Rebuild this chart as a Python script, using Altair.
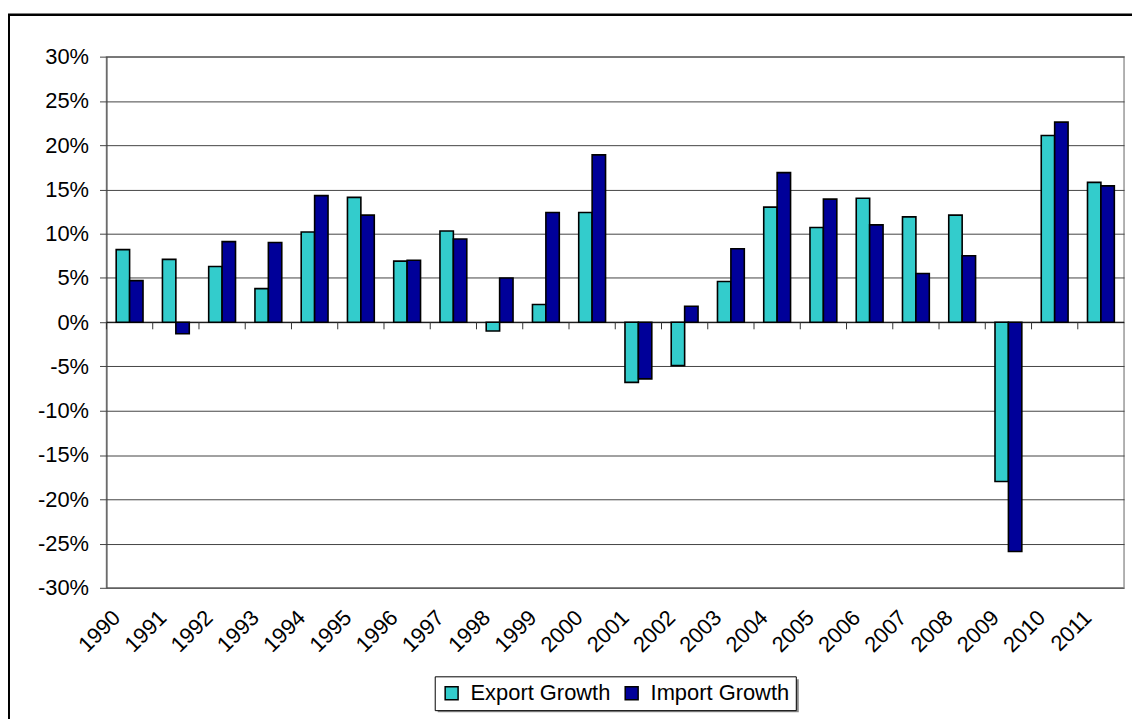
import altair as alt
import pandas as pd

years = ["1990", "1991", "1992", "1993", "1994", "1995", "1996", "1997", "1998", "1999", "2000",
         "2001", "2002", "2003", "2004", "2005", "2006", "2007", "2008", "2009", "2010", "2011"]
export_growth = [8.2, 7.1, 6.3, 3.8, 10.2, 14.1, 6.9, 10.3, -1.0, 2.0, 12.4,
                 -6.8, -4.9, 4.6, 13.0, 10.7, 14.0, 11.9, 12.1, -18.0, 21.1, 15.8]
import_growth = [4.7, -1.3, 9.1, 9.0, 14.3, 12.1, 7.0, 9.4, 5.0, 12.4, 18.9,
                 -6.4, 1.8, 8.3, 16.9, 13.9, 11.0, 5.5, 7.5, -25.9, 22.6, 15.4]
series = ["Export Growth", "Import Growth"]
colors = ["#33CCCC", "#000099"]
y_ticks = [-30, -25, -20, -15, -10, -5, 0, 5, 10, 15, 20, 25, 30]

rows = []
for i, yr in enumerate(years):
    rows.append({"year": yr, "series": series[0], "value": export_growth[i]})
    rows.append({"year": yr, "series": series[1], "value": import_growth[i]})
df = pd.DataFrame(rows)

FONT = "Liberation Sans"

x_scale = alt.Scale(paddingInner=0.42, paddingOuter=0.21)
y_scale = alt.Scale(domain=[-30, 30], nice=False, zero=False)

bars = alt.Chart(df).mark_bar(stroke="black", strokeWidth=1.6).encode(
    x=alt.X("year:N", sort=years, scale=x_scale,
            axis=alt.Axis(title=None, labelAngle=-45, labelFontSize=22, labelFont=FONT,
                          labelColor="black", ticks=False, domain=False, grid=False,
                          labelPadding=26, labelOffset=-13)),
    xOffset=alt.XOffset("series:N", sort=series,
                        scale=alt.Scale(paddingInner=0, paddingOuter=0)),
    y=alt.Y("value:Q", scale=y_scale,
            axis=alt.Axis(title=None, values=y_ticks, labelExpr="datum.value + '%'",
                          labelFontSize=22, labelFont=FONT, labelColor="black",
                          tickSize=7, tickColor="#444", domainColor="#444",
                          gridColor="#444", gridWidth=1, labelPadding=11)),
    color=alt.Color("series:N", sort=series,
                    scale=alt.Scale(domain=series, range=colors),
                    legend=alt.Legend(title=None, orient="none", legendX=330, legendY=623,
                                      direction="horizontal", labelFontSize=22,
                                      labelFont=FONT, labelColor="black",
                                      symbolType="square", symbolSize=169,
                                      symbolStrokeColor="black", symbolStrokeWidth=1.5,
                                      symbolOpacity=1,
                                      strokeColor="black", fillColor="white",
                                      padding=6, labelOffset=8, columnPadding=10)),
)

zero_df = pd.DataFrame({"z": [0]})
zero_line = alt.Chart(zero_df).mark_rule(color="black", strokeWidth=1).encode(
    y=alt.Y("z:Q", scale=y_scale))

tick_df = pd.DataFrame({"year": years, "top": [0] * len(years), "bot": [-0.8] * len(years)})
cat_ticks = alt.Chart(tick_df).mark_rule(color="#333", strokeWidth=1, xOffset=-9.77).encode(
    x=alt.X("year:N", sort=years, scale=x_scale, bandPosition=0),
    y=alt.Y("top:Q", scale=y_scale),
    y2="bot:Q",
)

frame = alt.Chart(zero_df).mark_rect(fillOpacity=0, stroke="black", strokeWidth=2.5).encode(
    x=alt.value(-98.25), x2=alt.value(1300), y=alt.value(-42.2), y2=alt.value(900))

shadow = alt.Chart(zero_df).mark_rect(fill="#888").encode(
    x=alt.value(333), x2=alt.value(696), y=alt.value(626), y2=alt.value(659))

chart = alt.layer(zero_line, cat_ticks, bars, frame, shadow).properties(
    width=1023, height=534,
    padding={"left": 99, "top": 47, "right": 8, "bottom": 130},
    autosize=alt.AutoSizeParams(type="none"),
).configure_view(stroke="#999", strokeWidth=1.5)

chart.save("out.html", embed_options={"renderer": "svg", "actions": False})
